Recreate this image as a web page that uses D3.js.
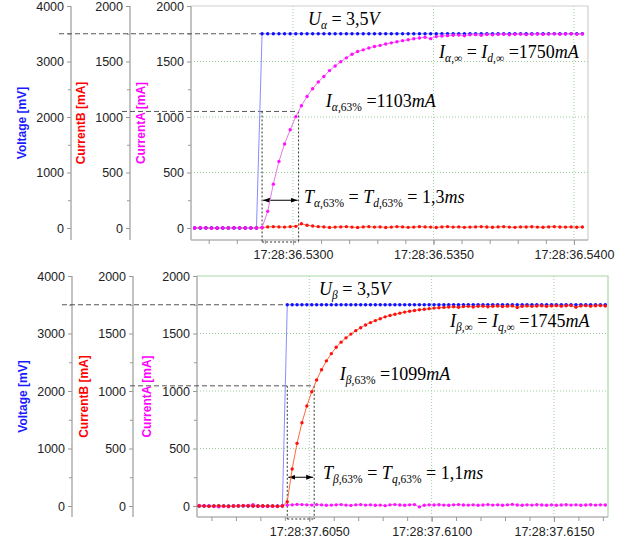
<!DOCTYPE html>
<html><head><meta charset="utf-8">
<script src="https://cdn.jsdelivr.net/npm/d3@7"></script>
<style>body{margin:0;background:#fff}svg{display:block}</style>
</head><body>
<svg id="chart" width="627" height="544"></svg>
<script>
// ---------------- DATA ----------------
// Panel 1 (alpha/d axis step)
const startA = 36.5265, periodA = 0.0002;          // seconds within minute 17:28
const voltageA = [0,0,0,0,0,0,0,0,0,0,0,0,
 3500,3500,3500,3500,3500,3500,3500,3500,3500,3500,
 3500,3500,3500,3500,3500,3500,3500,3500,3500,3500,
 3500,3500,3500,3500,3500,3500,3500,3500,3500,3500,
 3500,3500,3500,3500,3500,3500,3500,3500,3500,3500,
 3500,3500,3500,3500,3500,3500,3500,3500,3500,3500,
 3500,3500,3500,3500,3500,3500,3500,3500];
const currAA = [0,4,0,-3,0,2,0,0,3,0,0,0,
 5,150,395,600,757,885,1003,1102,1185,1255,
 1315,1365,1418,1460,1498,1533,1565,1590,1605,1622,
 1635,1645,1658,1668,1678,1688,1696,1705,1712,1718,
 1706,1725,1730,1733,1736,1738,1732,1740,1742,1737,
 1743,1740,1744,1746,1741,1745,1747,1742,1746,1748,
 1744,1747,1749,1745,1748,1750,1746,1748];
const currBA = [0,0,2,0,-2,0,0,3,0,0,0,0,
 2,10,12,10,8,12,15,38,25,18,
 12,10,5,8,10,12,8,5,10,12,
 8,10,5,8,12,10,6,8,12,10,
 8,5,10,12,8,10,6,8,10,12,
 9,7,10,12,8,6,10,9,11,8,
 7,10,12,9,8,10,7,9];
const tickTimesA = [36.5300, 36.5350, 36.5400];
const tickLabelsA = ["17:28:36.5300","17:28:36.5350","17:28:36.5400"];
const stepTimeA = 36.5289, t63TimeA = 36.5302;
const refCurrentA = 1050, refVoltA = 3500, arrowValA = 250;
const labelTimesA = [36.53053, 36.53520, 36.53117, 36.53039];
const labelValsA  = [1829, 1531, 1090, 225];

// Panel 2 (beta/q axis step)
const startB = 37.6005, periodB = 0.0002;
const voltageB = [0,0,0,0,0,0,0,0,0,0,0,0,0,0,0,0,0,0,
 3500,3500,3500,3500,3500,3500,3500,3500,3500,3500,
 3500,3500,3500,3500,3500,3500,3500,3500,3500,3500,
 3500,3500,3500,3500,3500,3500,3500,3500,3500,3500,
 3500,3500,3500,3500,3500,3500,3500,3500,3500,3500,
 3500,3500,3500,3500,3500,3500,3500,3500,3500,3500,
 3500,3500,3500,3500,3500,3500,3500,3500,3500,3500,
 3500,3500,3500,3500,3500,3500];
const currBB = [0,0,-3,0,2,0,-2,0,0,3,0,0,0,2,0,0,-2,0,
 37,322,545,724,870,994,1096,1185,1262,1325,
 1380,1425,1462,1495,1525,1550,1574,1595,1612,1628,
 1645,1656,1667,1677,1686,1693,1700,1706,1711,1716,
 1721,1724,1727,1730,1732,1728,1734,1736,1731,1737,
 1738,1733,1737,1739,1735,1738,1740,1726,1737,1740,
 1736,1739,1741,1737,1740,1742,1738,1741,1743,1729,
 1740,1742,1738,1741,1743,1739];
const currAB = [5,2,0,-5,-8,-3,-6,0,3,5,4,12,-2,-5,-4,-2,-5,3,
 8,10,14,12,10,8,12,10,6,8,
 10,12,8,5,10,12,8,10,6,8,
 3,10,12,9,7,10,12,-8,6,10,
 9,11,8,7,10,12,9,8,10,7,
 9,12,8,10,6,10,14,9,7,10,
 8,11,9,7,10,6,9,11,8,10,
 7,9,11,8,10,9];
const tickTimesB = [37.6050, 37.6100, 37.6150];
const tickLabelsB = ["17:28:37.6050","17:28:37.6100","17:28:37.6150"];
const stepTimeB = 37.6041, t63TimeB = 37.6052;
const refCurrentB = 1045, refVoltB = 3500, arrowValB = 250;
const labelTimesB = [37.60540, 37.61075, 37.60625, 37.60556];
const labelValsB  = [1835, 1556, 1096, 235];

const voltTicks = [0,1000,2000,3000,4000], voltMinor = [500,1500,2500,3500];
const currTicks = [0,500,1000,1500,2000], currMinor = [250,750,1250,1750];
const gridVals = [500,1000,1500];

const labelsA = [
  [["U","i"],["α","si"],[" = 3,5","r"],["V","i"]],
  [["I","i"],["α","si"],[",∞","sr"],[" = ","r"],["I","i"],["d","si"],[",∞","sr"],[" =1750","r"],["mA","i"]],
  [["I","i"],["α","si"],[",63%","sr"],[" =1103","r"],["mA","i"]],
  [["T","i"],["α","si"],[",63%","sr"],[" = ","r"],["T","i"],["d","si"],[",63%","sr"],[" = 1,3","r"],["ms","i"]]
];
const labelsB = [
  [["U","i"],["β","si"],[" = 3,5","r"],["V","i"]],
  [["I","i"],["β","si"],[",∞","sr"],[" = ","r"],["I","i"],["q","si"],[",∞","sr"],[" =1745","r"],["mA","i"]],
  [["I","i"],["β","si"],[",63%","sr"],[" =1099","r"],["mA","i"]],
  [["T","i"],["β","si"],[",63%","sr"],[" = ","r"],["T","i"],["q","si"],[",63%","sr"],[" = 1,1","r"],["ms","i"]]
];

// ---------------- DRAW ----------------
const svg = d3.select("#chart");
svg.append("defs").append("marker").attr("id","arr")
  .attr("viewBox","0 0 10 10").attr("refX",10).attr("refY",5)
  .attr("markerWidth",7).attr("markerHeight",7).attr("orient","auto-start-reverse")
  .append("path").attr("d","M0,1.5 L10,5 L0,8.5 z").attr("fill","#000");

const COL = {volt:"#1010ff", voltLine:"#8c8cff", b:"#ff1010", bLine:"#ff6a3a", a:"#ff10ff", aLine:"#e878e8"};

function drawPanel(p) {
  const g = svg.append("g");
  const x = d3.scaleLinear().domain(p.xDomain).range([p.left, p.right]);
  const yV = d3.scaleLinear().domain([0,4000]).range([p.zeroY, p.top]);
  const yB = d3.scaleLinear().domain([0,2000]).range([p.zeroY, p.top]);
  const yA = d3.scaleLinear().domain([0,2000]).range([p.zeroY, p.top]);
  const times = p.volt.map((d,i) => p.start + i*p.period);

  // grid
  g.selectAll(".hg").data(gridVals).join("line")
    .attr("x1",p.left).attr("x2",p.right).attr("y1",d=>yA(d)).attr("y2",d=>yA(d))
    .attr("stroke","#9ccf9c").attr("stroke-dasharray","1,2");
  g.selectAll(".vg").data(p.tickTimes).join("line")
    .attr("x1",d=>x(d)).attr("x2",d=>x(d)).attr("y1",p.top).attr("y2",p.bottom)
    .attr("stroke","#9ccf9c").attr("stroke-dasharray","1,2");
  // frame (top/right)
  g.append("path").attr("d",`M${p.left},${p.top}H${p.right}V${p.bottom}`)
    .attr("fill","none").attr("stroke",p.frame).attr("stroke-width",1.2);

  // left axes
  const axes = [
    {x:p.axisX[0], s:yV, major:voltTicks, minor:voltMinor, title:"Voltage [mV]", col:"#1a1aff", off:49},
    {x:p.axisX[1], s:yB, major:currTicks, minor:currMinor, title:"CurrentB [mA]", col:"#ff0000", off:49},
    {x:p.axisX[2], s:yA, major:currTicks, minor:currMinor, title:"CurrentA [mA]", col:"#ff00ff", off:50}
  ];
  axes.forEach(a => {
    const ag = g.append("g").attr("transform",`translate(${a.x},0)`);
    ag.append("line").attr("y1",p.top).attr("y2",p.bottom).attr("stroke","#b4b4b4").attr("stroke-width",1.6);
    const maj = ag.append("g").call(d3.axisLeft(a.s).tickValues(a.major).tickSize(4).tickPadding(3).tickFormat(d3.format("d")));
    const mnr = ag.append("g").call(d3.axisLeft(a.s).tickValues(a.minor).tickSize(3).tickFormat(""));
    [maj,mnr].forEach(s => { s.select(".domain").remove(); s.selectAll("line").attr("stroke","#999"); });
    maj.selectAll("text").attr("font-family","Liberation Sans, Arial").attr("font-size",12.5).attr("fill","#222");
    g.append("text").attr("transform",`translate(${a.x - a.off},${(p.top+p.bottom)/2}) rotate(-90)`)
      .attr("text-anchor","middle").attr("dy","0.35em").attr("font-family","Liberation Sans, Arial")
      .attr("font-weight","bold").attr("font-size",12).attr("fill",a.col).text(a.title);
  });

  // x axis
  const xg = g.append("g").attr("transform",`translate(0,${p.bottom})`);
  xg.append("line").attr("x1",p.left).attr("x2",p.right).attr("stroke","#b4b4b4").attr("stroke-width",1.6);
  const minorT = d3.range(Math.ceil(p.xDomain[0]*1000), p.xDomain[1]*1000, 1).map(d => d/1000);
  const xm = xg.append("g").call(d3.axisBottom(x).tickValues(minorT).tickSize(4).tickFormat(""));
  const xM = xg.append("g").call(d3.axisBottom(x).tickValues(p.tickTimes).tickSize(5).tickPadding(5)
      .tickFormat((d,i)=>p.tickLabels[i]));
  [xm,xM].forEach(s => { s.select(".domain").remove(); s.selectAll("line").attr("stroke","#999"); });
  xM.selectAll("text").attr("font-family","Liberation Sans, Arial").attr("font-size",12.5).attr("fill","#222");

  // reference lines
  g.append("line").attr("x1",p.dash1Start).attr("x2",x(p.stepTime)).attr("y1",yV(p.refVolt)).attr("y2",yV(p.refVolt))
    .attr("stroke","#555").attr("stroke-dasharray","5,3");
  g.append("line").attr("x1",p.dash2Start).attr("x2",x(p.t63Time)).attr("y1",yA(p.refCurrent)).attr("y2",yA(p.refCurrent))
    .attr("stroke","#555").attr("stroke-dasharray","5,3");
  [p.stepTime, p.t63Time].forEach(t => {
    g.append("line").attr("x1",x(t)).attr("x2",x(t)).attr("y1",yA(p.refCurrent)).attr("y2",p.bottom+2)
      .attr("stroke","#333").attr("stroke-dasharray","2,2");
  });
  g.append("line").attr("x1",x(p.stepTime)).attr("x2",x(p.t63Time)).attr("y1",p.bottom+2).attr("y2",p.bottom+2)
    .attr("stroke","#333").attr("stroke-dasharray","2,2");
  g.append("line").attr("x1",x(p.stepTime)+1).attr("x2",x(p.t63Time)-1).attr("y1",yA(p.arrowVal)).attr("y2",yA(p.arrowVal))
    .attr("stroke","#000").attr("stroke-width",1)
    .attr("marker-start","url(#arr)").attr("marker-end","url(#arr)");

  // series
  const series = [
    {vals:p.currB, s:yB, c:COL.b, lc:COL.bLine},
    {vals:p.volt, s:yV, c:COL.volt, lc:COL.voltLine},
    {vals:p.currA, s:yA, c:COL.a, lc:COL.aLine}
  ];
  const order = p.mainB ? [1,2,0] : [0,1,2];
  order.forEach(k => {
    const se = series[k];
    g.append("path").datum(se.vals)
      .attr("d", d3.line().x((d,i)=>x(times[i])).y(d=>se.s(d)))
      .attr("fill","none").attr("stroke",se.lc).attr("stroke-width",1);
  });
  order.forEach(k => {
    const se = series[k];
    g.append("g").selectAll("circle").data(se.vals).join("circle")
      .attr("cx",(d,i)=>x(times[i])).attr("cy",d=>se.s(d)).attr("r",1.7).attr("fill",se.c);
  });

  // annotations
  p.labels.forEach((parts,j) => {
    const t = g.append("text").attr("x", x(p.labelTimes[j])).attr("y", yA(p.labelVals[j]))
      .attr("font-family","Liberation Serif, Times New Roman, serif").attr("font-size",18).attr("fill","#000");
    let inSub = false;
    parts.forEach(([txt,st]) => {
      const ts = t.append("tspan").text(txt);
      const sub = st[0] === "s";
      if (sub && !inSub) ts.attr("dy", 4);
      if (!sub && inSub) ts.attr("dy", -4);
      inSub = sub;
      ts.attr("font-size", sub ? 11.5 : 18).attr("font-style", st.endsWith("i") ? "italic" : "normal");
    });
  });
}

drawPanel({left:191, right:588, top:6, bottom:240, zeroY:228, axisX:[71,130,191],
  xDomain:[36.52637,36.5405], frame:"#cfcfcf", start:startA, period:periodA,
  volt:voltageA, currA:currAA, currB:currBA, tickTimes:tickTimesA, tickLabels:tickLabelsA,
  stepTime:stepTimeA, t63Time:t63TimeA, refCurrent:refCurrentA, refVolt:refVoltA, arrowVal:arrowValA,
  dash1Start:59, dash2Start:122, labels:labelsA, labelTimes:labelTimesA, labelVals:labelValsA, mainB:false});

drawPanel({left:197, right:608, top:276, bottom:517, zeroY:506, axisX:[72,133,197],
  xDomain:[37.60041,37.61721], frame:"#a8d8a8", start:startB, period:periodB,
  volt:voltageB, currA:currAB, currB:currBB, tickTimes:tickTimesB, tickLabels:tickLabelsB,
  stepTime:stepTimeB, t63Time:t63TimeB, refCurrent:refCurrentB, refVolt:refVoltB, arrowVal:arrowValB,
  dash1Start:62, dash2Start:130, labels:labelsB, labelTimes:labelTimesB, labelVals:labelValsB, mainB:true});
</script>
</body></html>
